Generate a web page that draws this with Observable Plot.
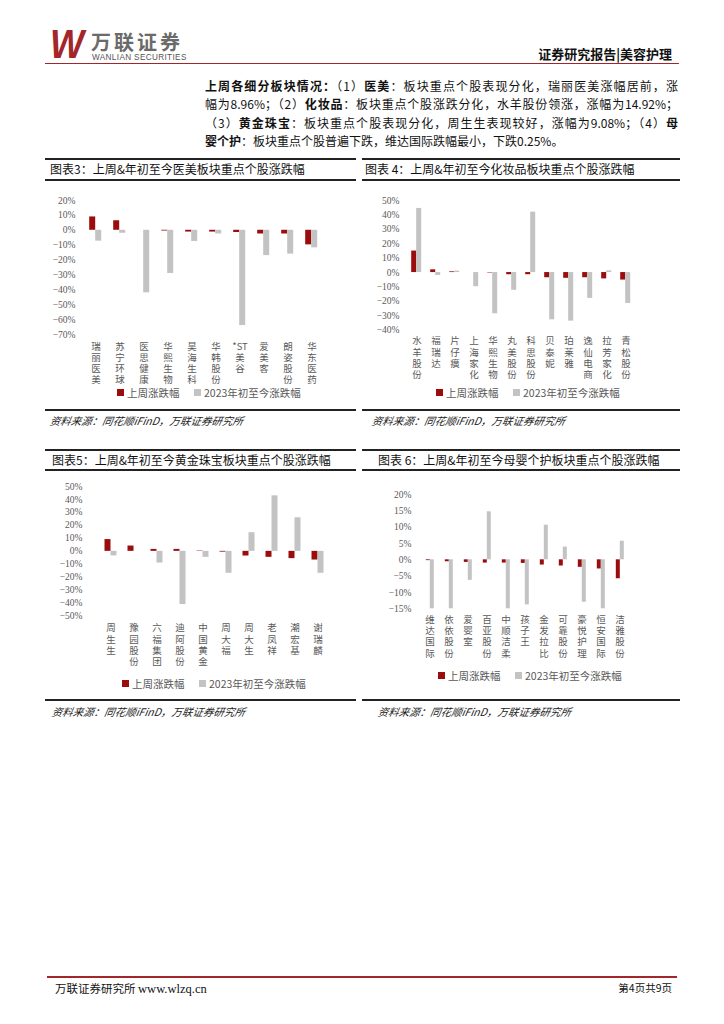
<!DOCTYPE html>
<html><head><meta charset="utf-8">
<script src="https://cdn.jsdelivr.net/npm/d3@7"></script>
<script src="https://cdn.jsdelivr.net/npm/@observablehq/plot@0.6"></script>
<style>
body{margin:0;background:#fff;}
#page{position:relative;width:724px;height:1024px;overflow:hidden;font-family:"Noto Sans CJK SC","Noto Sans",sans-serif;color:#222;}
.abs{position:absolute;}
.hl{position:absolute;height:0;border-top:2px solid #222;}
.para{position:absolute;left:205px;width:473px;font-size:12px;line-height:18.4px;color:#111;}
.para div{text-align:justify;text-align-last:justify;white-space:nowrap;}
.para div.last{text-align-last:left;}
.para b{font-weight:700;}
.title{position:absolute;font-size:12px;line-height:14px;color:#111;white-space:nowrap;}
.src{position:absolute;font-size:10.5px;font-style:italic;color:#222;white-space:nowrap;transform:skewX(-10deg);}
.legend{position:absolute;display:flex;align-items:center;font-size:10.5px;color:#595959;white-space:nowrap;font-family:"Noto Sans CJK SC",sans-serif;}
.legend .sw{width:7px;height:7px;margin-right:3px;display:inline-block;}
.legend .it{display:flex;align-items:center;}
</style></head>
<body><div id="page"></div>
<script>
// ---------- data ----------
const seriesNames = ["上周涨跌幅", "2023年初至今涨跌幅"];

const cats3 = ["瑞丽医美","苏宁环球","医思健康","华熙生物","昊海生科","华韩股份","*ST美谷","爱美客","朗姿股份","华东医药"];
const week3 = [8.96, 6.4, 0, -0.5, -1.2, -1.2, -1.5, -2.5, -2.5, -9.8];
const ytd3  = [-7.3, -2.0, -42.0, -29.0, -7.5, -2.5, -64.0, -17.0, -16.0, -11.8];
const ticks3 = [20,10,0,-10,-20,-30,-40,-50,-60,-70];

const cats4 = ["水羊股份","福瑞达","片仔癀","上海家化","华熙生物","丸美股份","科思股份","贝泰妮","珀莱雅","逸仙电商","拉芳家化","青松股份"];
const week4 = [14.92, 1.9, 0.5, 0, -0.3, -1.5, -1.5, -3.6, -4.0, -3.6, -4.4, -5.2];
const ytd4  = [44.5, -2.0, 1.0, -9.8, -28.6, -12.3, 41.9, -32.8, -33.7, -17.9, 1.2, -21.4];
const ticks4 = [50,40,30,20,10,0,-10,-20,-30,-40];

const cats5 = ["周生生","豫园股份","六福集团","迪阿股份","中国黄金","周大福","周大生","老凤祥","潮宏基","谢瑞麟"];
const week5 = [9.08, 4.1, 1.5, 1.5, 0.3, -0.6, -3.6, -4.6, -5.6, -6.7];
const ytd5  = [-3.5, 0, -9.0, -41.0, -4.6, -16.9, 14.4, 42.8, 25.9, -16.9];
const ticks5 = [50,40,30,20,10,0,-10,-20,-30,-40,-50];

const cats6 = ["维达国际","依依股份","爱婴室","百亚股份","中顺洁柔","孩子王","金发拉比","可靠股份","豪悦护理","恒安国际","洁雅股份"];
const week6 = [-0.25, -0.6, -0.8, -1.0, -1.0, -1.1, -1.6, -1.9, -2.3, -2.8, -5.8];
const ytd6  = [-15.0, -15.0, -6.3, 14.7, -15.0, -13.8, 10.6, 3.9, -13.0, -15.0, 5.7];
const ticks6 = [20,15,10,5,0,-5,-10,-15];

const RED = "#9B0D0D", GRAY = "#C3C3C3";
const page = document.getElementById("page");

function el(html, cls, style){
  const d = document.createElement("div");
  if (cls) d.className = cls;
  d.innerHTML = html;
  Object.assign(d.style, style || {});
  page.appendChild(d);
  return d;
}
function hline(x1, x2, y, w, color){
  el("", "hl", {left:x1+"px", width:(x2-x1)+"px", top:y+"px", borderTopWidth:(w||2)+"px", borderTopColor:color||"#222"});
}

// ---------- header ----------
el("W", "abs", {left:"50px", top:"24px", fontFamily:"'Liberation Sans',sans-serif", fontWeight:"900", fontStyle:"italic", fontSize:"40px", lineHeight:"40px", color:"#A3262A", letterSpacing:"-3px", transform:"scaleX(0.9)", transformOrigin:"left"});
el("万联证券", "abs", {left:"91px", top:"32px", fontSize:"20px", lineHeight:"20px", fontWeight:"700", color:"#6a6a6a", letterSpacing:"3px"});
el("WANLIAN SECURITIES", "abs", {left:"92px", top:"54px", fontFamily:"'Liberation Sans',sans-serif", fontSize:"8.2px", lineHeight:"8px", color:"#555", letterSpacing:"0.35px"});
el("证券研究报告|美容护理", "abs", {right:"52px", top:"46px", fontSize:"13px", lineHeight:"16px", fontWeight:"700", color:"#111"});
hline(45, 679, 63, 1.5, "#A3262A");

// ---------- paragraph ----------
el(`<div><b>上周各细分板块情况：</b>（1）<b>医美</b>：板块重点个股表现分化，瑞丽医美涨幅居前，涨</div>
<div>幅为8.96%；（2）<b>化妆品</b>：板块重点个股涨跌分化，水羊股份领涨，涨幅为14.92%；</div>
<div>（3）<b>黄金珠宝</b>：板块重点个股表现分化，周生生表现较好，涨幅为9.08%；（4）<b>母</b></div>
<div class="last"><b>婴个护</b>：板块重点个股普遍下跌，维达国际跌幅最小，下跌0.25%。</div>`, "para", {top:"77px"});

// ---------- chart boxes ----------
function box(x1, x2, yTop, yTitle, yBottom, title, tx){
  hline(x1, x2, yTop, 2);
  hline(x1, x2, yTitle, 2);
  hline(x1, x2, yBottom, 2);
  el(title, "title", {left:tx+"px", top:(yTop+4)+"px"});
}
box(45, 356, 158, 179, 409, "图表3：上周&amp;年初至今医美板块重点个股涨跌幅", 50);
box(362, 680, 158, 179, 409, "图表 4：上周&amp;年初至今化妆品板块重点个股涨跌幅", 365);
box(45, 356, 449, 469, 699, "图表5：上周&amp;年初至今黄金珠宝板块重点个股涨跌幅", 52);
box(362, 680, 449, 469, 699, "图表 6：上周&amp;年初至今母婴个护板块重点个股涨跌幅", 378);

const srcText = "资料来源：同花顺iFinD，万联证券研究所";
el(srcText, "src", {left:"50px", top:"413px"});
el(srcText, "src", {left:"372px", top:"413px"});
el(srcText, "src", {left:"52px", top:"704px"});
el(srcText, "src", {left:"378px", top:"704px"});

// ---------- charts ----------
function tokens(s){ return s.match(/[A-Za-z*]+|./g); }
function pct(d){ return (d < 0 ? "−" : "") + Math.abs(d) + "%"; }

function chart(cfg){
  const rows = cfg.cats.flatMap((c, i) => [
    {cat: c, s: seriesNames[0], v: cfg.week[i]},
    {cat: c, s: seriesNames[1], v: cfg.ytd[i]}
  ]);
  const svg = Plot.plot({
    width: cfg.width, height: cfg.height,
    marginLeft: cfg.ml, marginRight: cfg.mr, marginTop: cfg.mt, marginBottom: cfg.mb,
    style: {fontFamily: "'Liberation Serif','Noto Sans CJK SC',serif", fontSize: "9.5px", color: "#595959", background: "transparent", overflow: "visible"},
    fx: {domain: cfg.cats, paddingInner: cfg.pad, paddingOuter: 0, axis: null, label: null},
    x: {domain: seriesNames, padding: 0, axis: null, label: null},
    y: {domain: cfg.domain, ticks: cfg.ticks, tickFormat: pct, tickSize: 0, tickPadding: cfg.tp, label: null},
    color: {domain: seriesNames, range: [RED, GRAY]},
    marks: [
      Plot.barY(rows, {fx: "cat", x: "s", y: "v", fill: "s"}),
      Plot.text(cfg.cats, {fx: d => d, text: d => tokens(d).join("\n"), frameAnchor: "bottom", lineAnchor: "top", dy: cfg.dy, lineHeight: 1.19, fontSize: 9.5, fill: "#595959", fontFamily: "'Noto Sans CJK SC',sans-serif"})
    ]
  });
  svg.style.position = "absolute";
  svg.style.left = cfg.left + "px";
  svg.style.top = cfg.top + "px";
  page.appendChild(svg);
}

function legend(x, y){
  el(`<span class="it" style="width:77px"><span class="sw" style="background:${RED}"></span>${seriesNames[0]}</span><span class="it"><span class="sw" style="background:${GRAY}"></span>${seriesNames[1]}</span>`, "legend", {left:x+"px", top:(y-8)+"px", height:"16px"});
}

chart({cats: cats3, week: week3, ytd: ytd3, ticks: ticks3, domain: [-70, 20], left: 43, top: 190, width: 305, height: 210, ml: 44.8, mr: 29, mt: 10, mb: 66, pad: 0.45, tp: 14, dy: 7});
chart({cats: cats4, week: week4, ytd: ytd4, ticks: ticks4, domain: [-40, 50], left: 362, top: 190, width: 320, height: 210, ml: 44.8, mr: 47.1, mt: 10, mb: 70.3, pad: 0.405, tp: 12, dy: 6});
chart({cats: cats5, week: week5, ytd: ytd5, ticks: ticks5, domain: [-50, 50], left: 43, top: 476, width: 305, height: 214, ml: 56.5, mr: 19.2, mt: 10, mb: 74.3, pad: 0.43, tp: 22, dy: 7});
chart({cats: cats6, week: week6, ytd: ytd6, ticks: ticks6, domain: [-15, 20], left: 362, top: 484, width: 320, height: 200, ml: 59.2, mr: 54.5, mt: 10, mb: 75.7, pad: 0.54, tp: 14, dy: 6});

legend(117, 392);
legend(436, 392);
legend(122, 683);
legend(438, 675);

// ---------- footer ----------
hline(47, 677, 976, 2.5, "#A3262A");
el("万联证券研究所 <span style=\"font-family:'Liberation Serif',serif;font-size:12.5px\">www.wlzq.cn</span>", "abs", {left:"55px", top:"980px", fontSize:"11.5px", lineHeight:"16px", color:"#111"});
el("第4页共9页", "abs", {right:"52px", top:"981px", fontSize:"10.5px", lineHeight:"14px", color:"#111"});
</script></body></html>
